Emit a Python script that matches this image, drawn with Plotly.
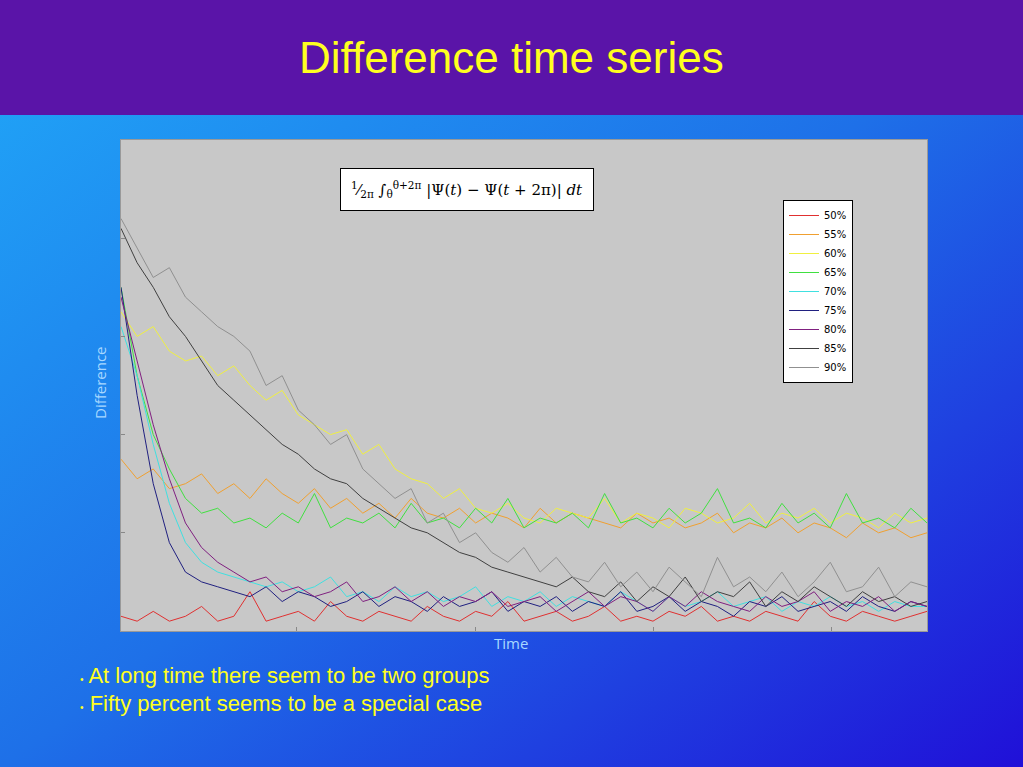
import plotly.graph_objects as go
import numpy as np
import urllib.parse

labels = ["50%", "55%", "60%", "65%", "70%", "75%", "80%", "85%", "90%"]
colors = ["#E03030", "#F0A030", "#F0F040", "#40E040", "#40E0E0", "#202080", "#802080", "#404040", "#909090"]

s50 = [3,2,4,2,3,5,2,3,8,2,3,4,2,6,3,2,4,3,2,5,3,2,4,3,6,2,3,4,2,3,5,2,3,2,4,3,5,2,3,2,4,3,2,6,3,2,4,3,2,3,4]
s55 = [35,31,33,29,30,32,28,30,27,31,28,26,29,25,27,24,26,23,27,24,23,25,22,24,23,21,25,22,24,23,22,21,24,22,23,21,22,24,20,22,21,23,20,22,21,19,22,20,21,19,20]
s60 = [65,60,62,57,55,56,52,54,50,47,49,44,42,40,41,36,38,33,31,30,27,29,25,24,26,23,22,25,24,23,27,22,24,23,21,25,24,22,23,26,22,24,23,25,22,24,23,21,24,22,23]
s65 = [70,52,40,33,27,24,25,22,23,21,24,22,28,21,23,22,24,21,26,22,23,21,25,22,27,21,23,22,24,21,28,22,23,21,25,22,24,29,22,23,21,26,22,24,21,28,22,23,21,25,22]
s70 = [62,52,38,26,18,14,12,11,10,9,10,8,9,11,7,8,6,9,7,8,6,7,9,5,7,6,8,5,7,6,5,8,6,4,7,5,6,8,5,6,7,4,6,5,7,5,6,4,6,5,5]
s75 = [70,48,30,18,12,10,9,8,7,9,6,8,7,5,6,8,5,7,6,4,7,5,6,8,4,6,5,7,4,6,5,8,4,5,7,4,6,5,3,6,5,7,4,5,6,4,7,5,4,6,5]
s80 = [68,55,42,31,22,17,14,12,10,11,8,9,7,8,10,6,7,9,6,8,5,7,6,8,5,6,7,4,6,8,5,7,6,4,7,5,8,6,5,4,7,5,6,8,4,6,5,7,4,6,5]
s85 = [82,75,70,64,60,55,50,47,44,41,38,36,33,31,30,27,25,23,21,20,18,16,15,13,12,11,10,9,11,8,7,10,6,9,7,11,6,8,7,10,5,8,6,9,7,5,8,6,7,5,6]
s90 = [84,78,72,74,68,65,62,60,57,50,52,45,42,38,40,33,30,27,29,22,24,18,20,16,14,17,12,15,11,10,14,9,12,8,13,10,7,15,9,11,8,12,7,10,14,8,9,13,7,10,9]
series = [s50, s55, s60, s65, s70, s75, s80, s85, s90]

x_ticks = [21.8, 44.0, 66.1, 88.2]
y_ticks = [20, 40, 60, 80]

fig = go.Figure()
for lab, col, s in zip(labels, colors, series):
    fig.add_trace(go.Scatter(x=np.linspace(0, 100, len(s)), y=s, mode="lines", name=lab,
                             line=dict(color=col, width=1)))

W, H = 1023, 767
L, R, T, B = 121, 96, 140, 136
pw, ph = W - L - R, H - T - B

svg = ("<svg xmlns='http://www.w3.org/2000/svg' width='1023' height='767'>"
       "<defs><linearGradient id='g' x1='0' y1='0' x2='1' y2='1'>"
       "<stop offset='0' stop-color='#20A8F8'/><stop offset='0.5' stop-color='#1E70E8'/>"
       "<stop offset='1' stop-color='#2010D8'/></linearGradient></defs>"
       "<rect width='1023' height='767' fill='url(#g)'/>"
       "<rect width='1023' height='115' fill='#5A14A8'/></svg>")
uri = "data:image/svg+xml;charset=utf-8," + urllib.parse.quote(svg)

def ann(text, px, py, size, color, family, xa="center", **kw):
    return dict(text=text, xref="paper", yref="paper", x=(px - L) / pw, y=(631 - py) / ph,
                xanchor=xa, yanchor="middle", showarrow=False,
                font=dict(size=size, color=color, family=family), **kw)

fig.update_layout(
    width=W, height=H,
    margin=dict(l=L, r=R, t=T, b=B),
    paper_bgcolor="rgba(0,0,0,0)",
    plot_bgcolor="rgba(0,0,0,0)",
    images=[dict(source=uri, xref="paper", yref="paper", x=-L/pw, y=1+T/ph,
                 sizex=W/pw, sizey=H/ph, sizing="stretch", layer="below",
                 xanchor="left", yanchor="top")],
    shapes=[dict(type="rect", xref="paper", yref="paper", x0=0, x1=1, y0=0, y1=1,
                 fillcolor="#C8C8C8", line=dict(width=0), layer="below")],
    xaxis=dict(range=[0, 100], showgrid=False, zeroline=False, tickvals=x_ticks,
               showticklabels=False, ticks="inside", ticklen=4, tickcolor="#888",
               showline=True, linecolor="#999", mirror=True),
    yaxis=dict(range=[0, 100], showgrid=False, zeroline=False, tickvals=y_ticks,
               showticklabels=False, ticks="inside", ticklen=4, tickcolor="#888",
               showline=True, linecolor="#999", mirror=True),
    legend=dict(x=(783-L)/pw, y=(631-200)/ph, xanchor="left", yanchor="top",
                bgcolor="white", bordercolor="black", borderwidth=1,
                font=dict(family="DejaVu Sans", size=10, color="black"),
                tracegroupgap=0, itemwidth=30),
    showlegend=True,
    font=dict(family="Liberation Sans"),
    annotations=[
        ann("Difference time series", 511, 57, 44, "#FFFF20", "Liberation Sans"),
        ann("<sup>1</sup>⁄<sub>2π</sub> ∫<sub>θ</sub><sup>θ+2π</sup> |Ψ(<i>t</i>) − Ψ(<i>t</i> + 2π)| <i>dt</i>",
            467, 190, 15, "black", "DejaVu Serif",
            bgcolor="white", bordercolor="black", borderwidth=1, borderpad=10),
        ann("Difference", 100, 383, 15, "#A8D8FF", "Open Sans", textangle=-90),
        ann("Time", 511, 643, 15, "#A8D8FF", "Open Sans"),
        ann("<span style='font-size:10px'>•</span> At long time there seem to be two groups", 78, 675, 22, "#FFFF20", "Liberation Sans", xa="left"),
        ann("<span style='font-size:10px'>•</span> Fifty percent seems to be a special case", 78, 703, 22, "#FFFF20", "Liberation Sans", xa="left"),
    ],
)
fig.write_html("out.html", config={"displayModeBar": False},
               post_script="document.body.style.margin='0';document.body.style.overflow='hidden';")
